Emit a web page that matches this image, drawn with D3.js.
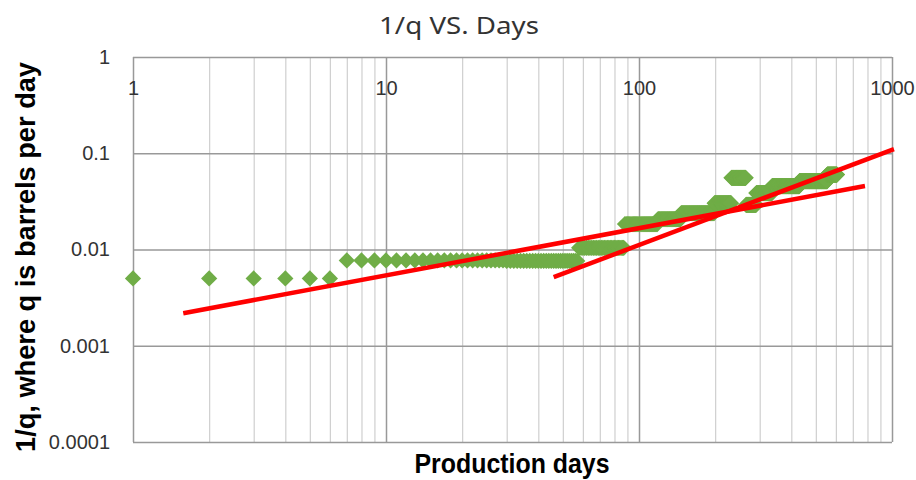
<!DOCTYPE html>
<html>
<head>
<meta charset="utf-8">
<script src="https://cdn.jsdelivr.net/npm/d3@7"></script>
<style>
  body { margin: 0; background: #fff; }
  svg { display: block; }
</style>
</head>
<body>
<script>
// runs of constant 1/q (first day, last day, value)
const runStart = [1, 7, 30, 58, 88, 119, 147, 199, 232, 265, 291, 336, 431, 555];
const runEnd   = [6, 29, 57, 87, 118, 146, 198, 231, 264, 290, 335, 430, 554, 606];
const runValue = [0.005, 0.0077, 0.0076, 0.0104, 0.0184, 0.0207, 0.0239, 0.0303, 0.0556, 0.029, 0.0386, 0.0456, 0.0514, 0.06];

// two power-law trend lines, end points
const trendA = { days: [1.58, 782], values: [0.00218, 0.0456] };
const trendB = { days: [46, 1018], values: [0.00516, 0.1106] };

const xTicks = [1, 10, 100, 1000];
const yTicks = [1, 0.1, 0.01, 0.001, 0.0001];

// one point per production day inside each run
const points = [];
runStart.forEach((s, i) => {
  for (let d = s; d <= runEnd[i]; d++) points.push({ day: d, value: runValue[i] });
});

const width = 916, height = 480;
const plotLeft = 133, plotRight = 892, plotTop = 57, plotBottom = 442;

const svg = d3.select('body').append('svg')
  .attr('width', width).attr('height', height);

const x = d3.scaleLog().domain([1, 1000]).range([plotLeft, plotRight]);
const y = d3.scaleLog().domain([0.0001, 1]).range([plotBottom, plotTop]);

// minor vertical grid
svg.append('g')
  .attr('transform', `translate(0,${plotBottom})`)
  .call(d3.axisBottom(x).tickValues(x.ticks().filter(d => !xTicks.includes(d)))
    .tickSize(-(plotBottom - plotTop)).tickFormat(''))
  .call(g => g.select('.domain').remove())
  .call(g => g.selectAll('line').attr('stroke', '#cfcfcf').attr('stroke-width', 1.2));

// major vertical grid
svg.append('g')
  .attr('transform', `translate(0,${plotBottom})`)
  .call(d3.axisBottom(x).tickValues(xTicks).tickSize(-(plotBottom - plotTop)).tickFormat(''))
  .call(g => g.select('.domain').remove())
  .call(g => g.selectAll('line').attr('stroke', '#999').attr('stroke-width', 1.5));

// horizontal grid
svg.append('g')
  .attr('transform', `translate(${plotLeft},0)`)
  .call(d3.axisLeft(y).tickValues(yTicks).tickSize(-(plotRight - plotLeft)).tickFormat(''))
  .call(g => g.select('.domain').remove())
  .call(g => g.selectAll('line').attr('stroke', '#999').attr('stroke-width', 1.5));

// x tick labels sit inside the plot, under the top edge
svg.append('g')
  .attr('transform', `translate(0,${plotTop})`)
  .call(d3.axisBottom(x).tickValues(xTicks).tickSize(0).tickPadding(24).tickFormat(d3.format('d')))
  .call(g => g.select('.domain').remove())
  .call(g => g.selectAll('text')
    .attr('font-family', 'Liberation Sans, Arial, sans-serif')
    .attr('font-size', '20px').attr('fill', '#333'));

svg.append('g')
  .attr('transform', `translate(${plotLeft},0)`)
  .call(d3.axisLeft(y).tickValues(yTicks).tickSize(0).tickPadding(23).tickFormat(d3.format('~g')))
  .call(g => g.select('.domain').remove())
  .call(g => g.selectAll('text')
    .attr('font-family', 'Liberation Sans, Arial, sans-serif')
    .attr('font-size', '20px').attr('fill', '#333'));

// diamonds
const diamond = d3.symbol().type(d3.symbolSquare).size(132);
svg.append('g').selectAll('path')
  .data(points)
  .enter().append('path')
  .attr('d', diamond)
  .attr('transform', d => `translate(${x(d.day)},${y(d.value)}) rotate(45)`)
  .attr('fill', '#70ad47');

// trend lines
const line = d3.line().x(d => x(d[0])).y(d => y(d[1]));
[trendA, trendB].forEach(t => {
  svg.append('path')
    .attr('d', line(d3.zip(t.days, t.values)))
    .attr('fill', 'none')
    .attr('stroke', '#ff0000')
    .attr('stroke-width', 4.5);
});

// titles
svg.append('text')
  .attr('x', 459).attr('y', 34)
  .attr('text-anchor', 'middle')
  .attr('font-family', 'Noto Sans, sans-serif')
  .attr('font-size', '24px')
  .attr('fill', '#333')
  .attr('textLength', 160).attr('lengthAdjust', 'spacingAndGlyphs')
  .text('1/q VS. Days');

svg.append('text')
  .attr('x', 512).attr('y', 473)
  .attr('text-anchor', 'middle')
  .attr('font-family', 'Liberation Sans, Arial, sans-serif')
  .attr('font-weight', 'bold')
  .attr('font-size', '27px')
  .attr('textLength', 195).attr('lengthAdjust', 'spacingAndGlyphs')
  .text('Production days');

svg.append('text')
  .attr('transform', 'translate(35,257) rotate(-90)')
  .attr('text-anchor', 'middle')
  .attr('font-family', 'Liberation Sans, Arial, sans-serif')
  .attr('font-weight', 'bold')
  .attr('font-size', '27px')
  .attr('textLength', 390).attr('lengthAdjust', 'spacingAndGlyphs')
  .text('1/q, where q is barrels per day');
</script>
</body>
</html>
